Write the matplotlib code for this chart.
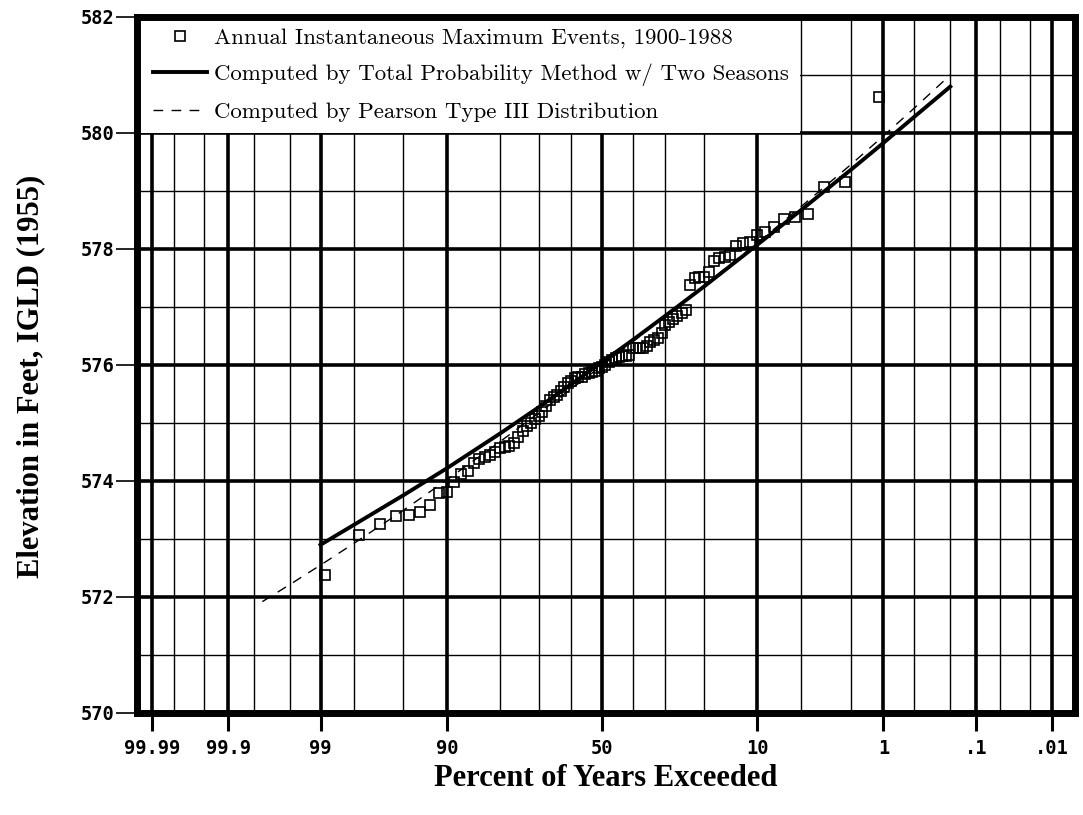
import numpy as np
import matplotlib
matplotlib.use("Agg")
import matplotlib.pyplot as plt
from matplotlib.ticker import FixedLocator, FixedFormatter, NullFormatter
from matplotlib.patches import Rectangle
from statistics import NormalDist

# ---------------- data ----------------
# observed annual maxima: percent of years exceeded (plotting position) and elevation (ft)
obs_pct = [1.11, 2.22, 3.33, 4.44, 5.56, 6.67, 7.78, 8.89, 10.0, 11.11,
           12.22, 13.33, 14.44, 15.56, 16.67, 17.78, 18.89, 20.0, 21.11, 22.22,
           23.33, 24.44, 25.56, 26.67, 27.78, 28.89, 30.0, 31.11, 32.22, 33.33,
           34.44, 35.56, 36.67, 37.78, 38.89, 40.0, 41.11, 42.22, 43.33, 44.44,
           45.56, 46.67, 47.78, 48.89, 50.0, 51.11, 52.22, 53.33, 54.44, 55.56,
           56.67, 57.78, 58.89, 60.0, 61.11, 62.22, 63.33, 64.44, 65.56, 66.67,
           67.78, 68.89, 70.0, 71.11, 72.22, 73.33, 74.44, 75.56, 76.67, 77.78,
           78.89, 80.0, 81.11, 82.22, 83.33, 84.44, 85.56, 86.67, 87.78, 88.89,
           90.0, 91.11, 92.22, 93.33, 94.44, 95.56, 96.67, 97.78, 98.89]
obs_elev = [580.62, 579.15, 579.07, 578.60, 578.55, 578.52, 578.38, 578.30, 578.25, 578.12,
            578.10, 578.05, 577.90, 577.86, 577.85, 577.80, 577.60, 577.52, 577.52, 577.50,
            577.38, 576.95, 576.90, 576.85, 576.80, 576.75, 576.69, 576.55, 576.47, 576.43,
            576.40, 576.33, 576.30, 576.30, 576.29, 576.29, 576.17, 576.16, 576.16, 576.14,
            576.12, 576.09, 576.05, 576.00, 575.97, 575.94, 575.90, 575.88, 575.86, 575.84,
            575.80, 575.80, 575.78, 575.72, 575.69, 575.62, 575.56, 575.48, 575.45, 575.40,
            575.30, 575.19, 575.12, 575.07, 575.00, 574.95, 574.86, 574.76, 574.65, 574.61,
            574.59, 574.57, 574.50, 574.45, 574.41, 574.38, 574.31, 574.17, 574.12, 573.98,
            573.81, 573.79, 573.59, 573.47, 573.41, 573.40, 573.26, 573.07, 572.38]

# total probability method (two seasons)
tp_pct = [99, 98, 95, 90, 80, 70, 60, 50, 40, 30, 20, 10, 5, 2, 1, 0.5, 0.2]
tp_elev = [572.90, 573.24, 573.75, 574.22, 574.82, 575.27, 575.67, 576.05, 576.43,
           576.85, 577.35, 578.07, 578.67, 579.36, 579.83, 580.27, 580.80]

# Pearson type III
p3_pct = [99.75, 99.5, 99, 98, 95, 90, 80, 70, 60, 50, 40, 30, 20, 10, 5, 2, 1, 0.5, 0.2]
p3_elev = [571.92, 572.22, 572.55, 572.92, 573.49, 574.02, 574.68, 575.17, 575.59,
           575.99, 576.40, 576.84, 577.37, 578.10, 578.73, 579.45, 579.95, 580.42, 581.00]

x_major = [99.99, 99.9, 99, 90, 50, 10, 1, 0.1, 0.01]
x_major_labels = ['99.99', '99.9', '99', '90', '50', '10', '1', '.1', '.01']
x_minor = [99.98, 99.95, 99.8, 99.5, 98, 95, 80, 70, 60, 40, 30, 20, 5, 2, 0.5, 0.2, 0.05, 0.02]
y_major = [570, 572, 574, 576, 578, 580, 582]
y_minor = [571, 573, 575, 577, 579, 581]

legend_labels = ['Annual Instantaneous Maximum Events, 1900-1988',
                 'Computed by Total Probability Method w/ Two Seasons',
                 'Computed by Pearson Type III Distribution']

# ---------------- probability scale ----------------
_nd = NormalDist()

def _fwd(p):
    p = np.asarray(p, dtype=float)
    q = np.clip(1.0 - p / 100.0, 1e-9, 1 - 1e-9)
    return np.vectorize(_nd.inv_cdf, otypes=[float])(q)

def _inv(z):
    z = np.asarray(z, dtype=float)
    return 100.0 * (1.0 - np.vectorize(_nd.cdf, otypes=[float])(z))

# ---------------- figure ----------------
W, H = 1083, 815
L, R, T, B = 137, 1075, 17, 713
fig = plt.figure(figsize=(W / 100, H / 100), dpi=100)
ax = fig.add_axes([L / W, 1 - B / H, (R - L) / W, (B - T) / H])
ax.set_xscale('function', functions=(_fwd, _inv))
ax.set_xlim(float(_inv(-3.843)), float(_inv(3.909)))
ax.set_ylim(570, 582)

ax.xaxis.set_major_locator(FixedLocator(x_major))
ax.xaxis.set_major_formatter(FixedFormatter(x_major_labels))
ax.xaxis.set_minor_locator(FixedLocator(x_minor))
ax.xaxis.set_minor_formatter(NullFormatter())
ax.yaxis.set_major_locator(FixedLocator(y_major))
ax.yaxis.set_minor_locator(FixedLocator(y_minor))
ax.set_yticklabels([str(v) for v in y_major])

# make 99.99 appear on the left
if ax.transData.transform((99.99, 576))[0] > ax.transData.transform((0.01, 576))[0]:
    ax.invert_xaxis()

ax.grid(which='major', color='black', lw=2.6)
ax.grid(which='minor', color='black', lw=1.0)
ax.set_axisbelow(True)

ax.tick_params(axis='x', which='major', direction='out', length=13, width=2.2, pad=6)
ax.tick_params(axis='y', which='major', direction='out', length=15, width=1.2, pad=1)
ax.tick_params(which='minor', length=0)
for lab in ax.get_xticklabels() + ax.get_yticklabels():
    lab.set_fontfamily('DejaVu Sans Mono')
    lab.set_fontsize(13.5)
    lab.set_fontweight('bold')

for s in ax.spines.values():
    s.set_linewidth(5)
    s.set_zorder(5)

# white area behind the legend (covers the grid there)
ax.add_patch(Rectangle((0, (580 - 570) / 12), (800 - L) / (R - L), 2 / 12,
                       transform=ax.transAxes, facecolor='white', edgecolor='none',
                       zorder=2))

h_obs, = ax.plot(obs_pct, obs_elev, ls='none', marker='s', ms=7.5, mfc='none',
                 mec='black', mew=1.2, zorder=4, label=legend_labels[0])
h_tp, = ax.plot(tp_pct, tp_elev, color='black', lw=2.8, zorder=3, label=legend_labels[1])
h_p3, = ax.plot(p3_pct, p3_elev, color='black', lw=1.0, ls=(0, (7, 6)), zorder=3,
                label=legend_labels[2])

leg = ax.legend(handles=[h_obs, h_tp, h_p3], loc='upper left',
                bbox_to_anchor=(16 / (R - L), 1 - 11 / (B - T)),
                borderaxespad=0, borderpad=0, frameon=False, numpoints=1,
                handlelength=2.36, handletextpad=0.3, labelspacing=0.68,
                prop=dict(family='cmr10', size=16.5))
leg.set_zorder(6)

xl = ax.set_xlabel('Percent of Years Exceeded', family='Liberation Serif', weight='bold',
                   size=22)
xl.set_va('center')
ax.xaxis.set_label_coords(0.5, -(778 - B) / (B - T))
yl = ax.set_ylabel('Elevation in Feet, IGLD (1955)', family='Liberation Serif',
                   weight='bold', size=22)
yl.set_va('center')
ax.yaxis.set_label_coords(-(L - 31) / (R - L), (B - 376) / (B - T))

fig.savefig('out.png', dpi=100)
